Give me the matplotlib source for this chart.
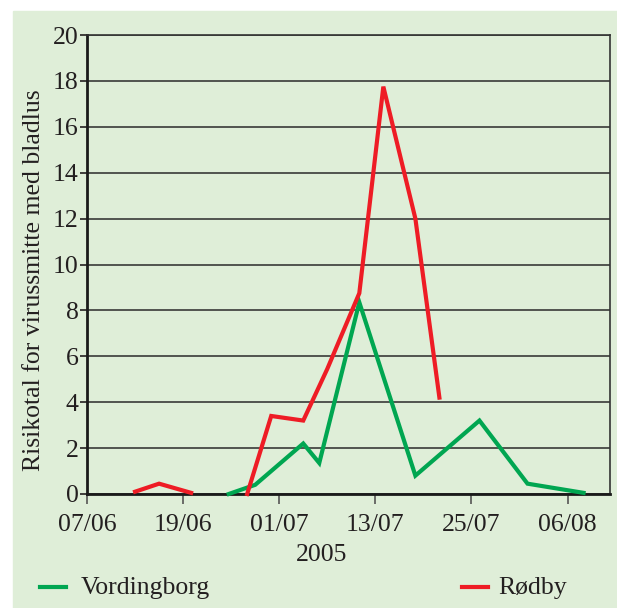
import matplotlib.pyplot as plt
from matplotlib.patches import Rectangle

plt.rcParams['font.family'] = ['Liberation Serif', 'DejaVu Serif']

# days counted from 07/06/2005
tick_days = [0, 12, 24, 36, 48, 60]
tick_labels = ['07/06', '19/06', '01/07', '13/07', '25/07', '06/08']

# Vordingborg
v_days = [17.7, 21, 27, 29, 34, 41, 49, 55, 62]
v_vals = [0.0, 0.4, 2.2, 1.35, 8.35, 0.8, 3.2, 0.45, 0.05]

# Rødby, two sampling periods with a gap between them
r_days1 = [6, 9, 13]
r_vals1 = [0.1, 0.45, 0.05]
r_days2 = [20, 23, 27, 30, 34, 37, 41, 44]
r_vals2 = [0.0, 3.4, 3.2, 5.45, 8.75, 17.75, 12.0, 4.2]

green = '#00a651'
red = '#ee1c25'
bg = '#dfeed8'
txt = '#231f20'
fs = 18.5

fig = plt.figure(figsize=(6.17, 6.08), dpi=100)
fig.patches.append(Rectangle((13 / 617, 0), 1 - 13 / 617, 1 - 11 / 608,
                             transform=fig.transFigure, color=bg, zorder=-10))

ax = fig.add_axes([87 / 617, 114 / 608, 523 / 617, 459 / 608])
ax.set_facecolor(bg)

ax.set_yticks(range(0, 21, 2))
ax.yaxis.grid(True, color='#2a2a2a', linewidth=1.1)
ax.set_axisbelow(True)

ax.plot(v_days, v_vals, color=green, linewidth=3.0, solid_joinstyle='miter', clip_on=False, zorder=3)
ax.plot(r_days1, r_vals1, color=red, linewidth=3.0, solid_joinstyle='miter', clip_on=False, zorder=3)
ax.plot(r_days2, r_vals2, color=red, linewidth=3.0, solid_joinstyle='miter', clip_on=False, zorder=3)

ax.set_xlim(0, 65.3)
ax.set_ylim(0, 20)
ax.set_xticks(tick_days)
ax.set_xticklabels(tick_labels)

for side in ['left', 'bottom']:
    ax.spines[side].set_linewidth(2.0)
    ax.spines[side].set_color('#1a1a1a')
for side in ['top', 'right']:
    ax.spines[side].set_linewidth(1.2)
    ax.spines[side].set_color('#333333')

ax.tick_params(axis='x', direction='out', length=7.5, width=1.2, color='#555555',
               labelsize=fs, colors=txt, pad=7)
ax.tick_params(axis='y', direction='out', length=5, width=1.2,
               labelsize=fs, colors=txt, pad=1)

ax.set_ylabel('Risikotal for virussmitte med bladlus', fontsize=fs, color=txt)
ax.yaxis.set_label_coords(-0.081, 0.466)
fig.text(322 / 617, 1 - 555 / 608, '2005', fontsize=fs, color=txt, ha='center', va='center')

# legend drawn by hand at the bottom of the panel
fig.add_artist(plt.Line2D([40 / 617, 66 / 617], [1 - 587 / 608] * 2, color=green, linewidth=3.0,
                          transform=fig.transFigure))
fig.text(81 / 617, 1 - 588 / 608, 'Vordingborg', fontsize=fs, color=txt, va='center')
fig.add_artist(plt.Line2D([462 / 617, 488 / 617], [1 - 587 / 608] * 2, color=red, linewidth=3.0,
                          transform=fig.transFigure))
fig.text(498 / 617, 1 - 588 / 608, 'Rødby', fontsize=fs, color=txt, va='center')

plt.savefig('out.png', dpi=100, facecolor='white')
